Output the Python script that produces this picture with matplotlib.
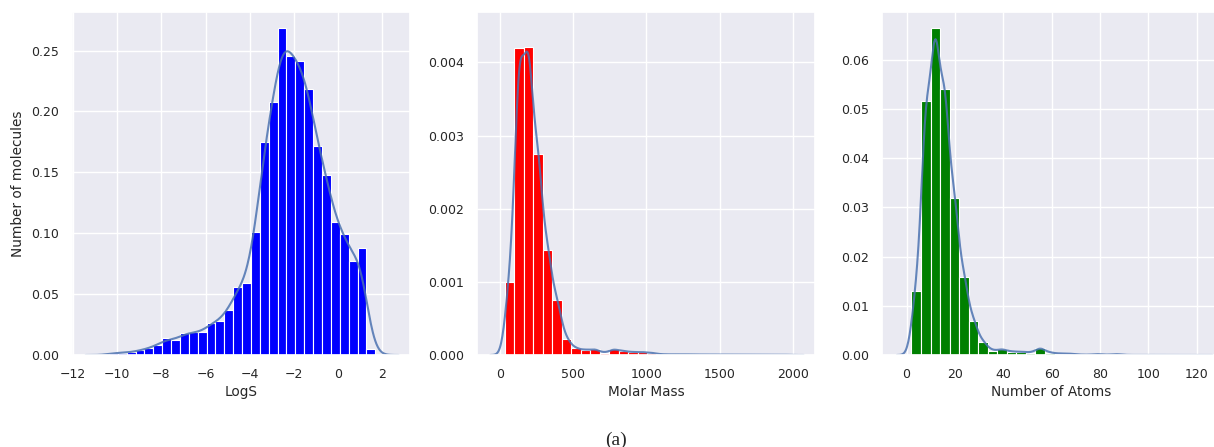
import numpy as np
import matplotlib
matplotlib.use('Agg')
import matplotlib.pyplot as plt
import seaborn as sns

# histogram heights (density), 30 bins per panel
logs_range = (-10.38, 1.69)
logs_density = [0.0018, 0.0018, 0.0022, 0.0038, 0.0055, 0.0082, 0.0137, 0.0120,
                0.0178, 0.0186, 0.0186, 0.0263, 0.0282, 0.0370, 0.0559, 0.0589,
                0.1013, 0.1752, 0.2075, 0.2683, 0.2456, 0.2418, 0.2182, 0.1717,
                0.1479, 0.1090, 0.0994, 0.0775, 0.0882, 0.0047]

mass_range = (34.0, 1975.0)
mass_density = [0.001002, 0.004196, 0.004214, 0.002747, 0.001435, 0.000752,
                0.000219, 0.000091, 0.000070, 0.000080, 0.000030, 0.000080,
                0.000055, 0.000040, 0.000040, 0.000030, 0.000010, 0.000008,
                0.000008, 0.000008, 0.000006, 0.000006, 0.000005, 0.000005,
                0.000005, 0.000004, 0.000004, 0.000004, 0.000003, 0.000004]

atoms_range = (2.0, 120.5)
atoms_density = [0.0130, 0.0516, 0.0664, 0.0540, 0.0319, 0.0159, 0.0070, 0.0027,
                 0.0009, 0.0012, 0.0007, 0.0007, 0.0005, 0.0015, 0.0005, 0.0003,
                 0.0003, 0.0001, 0.00005, 0.0002, 0.00005, 0.0002, 0.00002,
                 0.00001, 0.00001, 0.00001, 0.00001, 0.00001, 0.00001, 0.00001]

x_labels = ['LogS', 'Molar Mass', 'Number of Atoms']
bar_colors = ['blue', 'red', 'green']


def kde_from_bins(edges, heights, bw, cut=3):
    # gaussian kde over the bin centres, weighted by bin mass
    centers = (edges[:-1] + edges[1:]) / 2
    mass = np.asarray(heights) * np.diff(edges)
    x = np.linspace(edges[0] - cut * bw, edges[-1] + cut * bw, 500)
    z = (x[:, None] - centers[None, :]) / bw
    y = (mass[None, :] * np.exp(-0.5 * z ** 2)).sum(axis=1) / (bw * np.sqrt(2 * np.pi))
    return x, y


sns.set_theme(context='notebook', style='darkgrid', font_scale=0.82)

fig = plt.figure(figsize=(12.14, 4.47), dpi=100)

panels = [
    (logs_range, logs_density, 0.35, (-12.05, 3.26), 0.2817, 0.0593),
    (mass_range, mass_density, 33.0, (-157, 2152), 0.00469, 0.3929),
    (atoms_range, atoms_density, 2.0, (-10.2, 129.7), 0.0697, 0.7265),
]

for i, (rng, dens, bw, xlim, ytop, left) in enumerate(panels):
    ax = fig.add_axes([left, 0.2058, 0.2784, 0.7674])
    edges = np.linspace(rng[0], rng[1], len(dens) + 1)
    centers = (edges[:-1] + edges[1:]) / 2
    ax.hist(centers, bins=edges, weights=dens, color=bar_colors[i],
            edgecolor='white', linewidth=0.8)
    kx, ky = kde_from_bins(edges, dens, bw)
    ax.plot(kx, ky, color='#4c72b0', linewidth=1.5, alpha=0.85)
    ax.set_xlim(*xlim)
    ax.set_ylim(0, ytop)
    ax.set_xlabel(x_labels[i], labelpad=3)
    if i == 0:
        ax.set_ylabel('Number of molecules')

fig.text(0.5078, 0.0045, '(a)', family='Liberation Serif', fontsize=14,
         ha='center', va='baseline')

plt.savefig('out.png', dpi=100)
